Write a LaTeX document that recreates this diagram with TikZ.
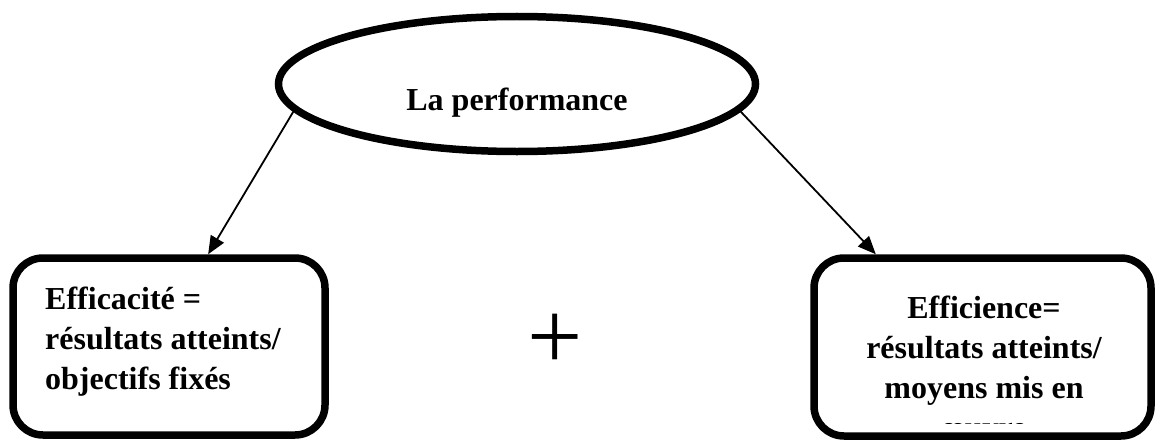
\documentclass[tikz,border=0pt]{standalone}
\usepackage{fontspec}
\setmainfont{Liberation Serif}
\usetikzlibrary{shapes.geometric,arrows.meta}
\begin{document}
\begin{tikzpicture}[x=1pt,y=-1pt,
  frame/.style={draw,line width=7.5pt,rounded corners=30pt,inner sep=0pt},
  bubble/.style={draw,ellipse,line width=7.5pt,inner sep=0pt},
  lbl/.style={font=\fontsize{32}{40}\selectfont\bfseries,inner sep=0pt},
  link/.style={line width=1.8pt,-{Triangle[length=18pt,width=15pt]}}]
\useasboundingbox (0,0) rectangle (1158,444);

% top ellipse and its title
\node[bubble,minimum width=477pt,minimum height=135pt] (perf) at (517,84) {};
\node[lbl,anchor=base] (perftitle) at (517,110) {La performance};

% the two rounded boxes
\node[frame,minimum width=312pt,minimum height=177pt] (lbox) at (169,346.5) {};
\node[frame,minimum width=337pt,minimum height=178pt] (rbox) at (982.5,347) {};

% box texts
\node[lbl,anchor=north west,align=left] (ltext) at (45,287)
  {Efficacité =\\résultats atteints/\\objectifs fixés};
\node[lbl,anchor=north,align=center] (rtext) at (984,296)
  {Efficience=\\résultats atteints/\\moyens mis en};
\begin{scope}
  \clip (814,258) rectangle (1151,423);
  \node[lbl,anchor=base] (rlast) at (984,438) {œuvre};
\end{scope}

% plus sign between the boxes
\node[inner sep=0pt,font=\fontsize{98}{98}\selectfont] (plus) at (555,342) {+};

% connectors
\draw[link] (perf.187) -- (lbox.67);
\draw[link] (perf.-7) -- (rbox.139);
\end{tikzpicture}
\end{document}
